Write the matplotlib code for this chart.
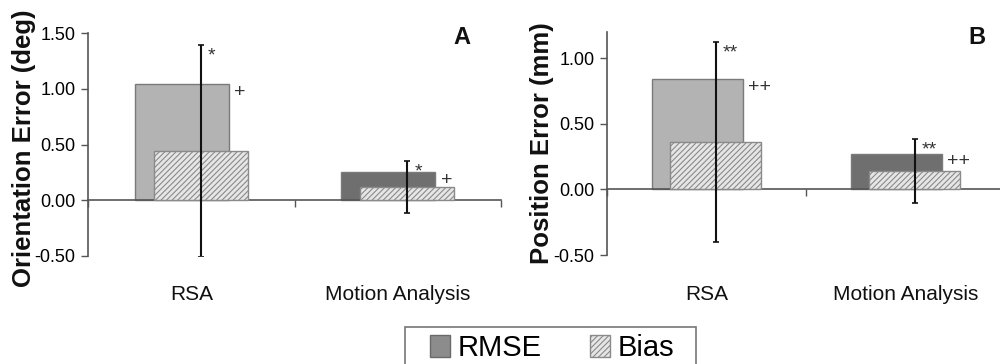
import matplotlib.pyplot as plt
import matplotlib.transforms as mtransforms
from matplotlib.patches import Patch, Rectangle
import numpy as np

plt.rcParams['font.family'] = ['Liberation Sans', 'DejaVu Sans']
plt.rcParams['hatch.linewidth'] = 0.8

# Data
categories = ['RSA', 'Motion Analysis']
rmse_orient = [1.04, 0.25]
bias_orient = [0.44, 0.12]
sd_orient = [0.95, 0.23]
rmse_pos = [0.84, 0.27]
bias_pos = [0.36, 0.14]
sd_pos = [0.76, 0.245]
marks_err_a = ['*', '*']
marks_rmse_a = ['+', '+']
marks_err_b = ['**', '**']
marks_rmse_b = ['++', '++']

rmse_colors = ['#b3b3b3', '#6f6f6f']
edge = '#7a7a7a'

fig = plt.figure(figsize=(10, 3.64), dpi=100)


def panel(rect, rmse, bias, sd, ylim, yticks, ylabel, m_err, m_rmse, letter, lx, label_x, label_y):
    ax = fig.add_axes(rect)
    x = np.arange(len(categories))
    w = 0.455
    off = 0.046
    ax.bar(x - off, rmse, w, color=rmse_colors, edgecolor=edge, linewidth=1, zorder=2)
    ax.bar(x + off, bias, w, color='#e6e6e6', edgecolor='#8a8a8a', hatch='//////',
           linewidth=1, zorder=3)
    ax.errorbar(x + off, bias, yerr=sd, fmt='none', ecolor='#111111', elinewidth=1.5,
                capsize=2, capthick=1.2, zorder=4)
    for i in range(len(categories)):
        ax.annotate(m_err[i], (x[i] + off, bias[i] + sd[i]), xytext=(5, -11),
                    textcoords='offset points', fontsize=14, color='#333333', zorder=5)
        ax.annotate(m_rmse[i], (x[i] - off + w / 2, rmse[i]), xytext=(4, -9),
                    textcoords='offset points', fontsize=14, color='#333333', zorder=5)

    ax.set_xlim(-0.5, 1.5)
    ax.set_ylim(*ylim)
    ax.set_yticks(yticks)
    ax.set_yticklabels([f'{v:.2f}' for v in yticks], fontsize=13)
    ax.set_xticks([-0.5, 0.5, 1.5])
    ax.set_xticklabels([])
    ax.tick_params(axis='both', direction='out', length=5, width=1, color='#555555')
    ax.tick_params(axis='y', pad=4)
    for s in ['top', 'right']:
        ax.spines[s].set_visible(False)
    ax.spines['bottom'].set_position(('data', 0))
    for s in ['left', 'bottom']:
        ax.spines[s].set_color('#555555')
        ax.spines[s].set_linewidth(1.2)

    trans = mtransforms.blended_transform_factory(ax.transData, fig.transFigure)
    for i, c in enumerate(categories):
        ax.text(x[i], 1 - 294 / 364, c, transform=trans, ha='center', va='center',
                fontsize=15, color='#111111')

    fig.text(label_x, label_y, ylabel, rotation=90, ha='center', va='center',
             fontsize=18.5, fontweight='bold', color='#111111')
    fig.text(lx, 1 - 37 / 364, letter, ha='center', va='center', fontsize=17,
             fontweight='bold', color='#111111')
    return ax


panel([0.088, 1 - 256 / 364, 0.413, 223 / 364], rmse_orient, bias_orient, sd_orient,
      (-0.5, 1.5), [-0.5, 0.0, 0.5, 1.0, 1.5], 'Orientation Error (deg)',
      marks_err_a, marks_rmse_a, 'A', 0.462, 0.024, 1 - 148 / 364)
panel([0.607, 1 - 255 / 364, 0.398, 223 / 364], rmse_pos, bias_pos, sd_pos,
      (-0.5, 1.2), [-0.5, 0.0, 0.5, 1.0], 'Position Error (mm)',
      marks_err_b, marks_rmse_b, 'B', 0.977, 0.542, 1 - 143 / 364)

# legend box (runs off the bottom edge like the original)
fig.patches.append(Rectangle((0.405, -0.05), 0.291, 0.05 + (364 - 327) / 364,
                             transform=fig.transFigure, facecolor='white',
                             edgecolor='#777777', linewidth=1.2))
handles = [Patch(facecolor='#8c8c8c', edgecolor='#6a6a6a'),
           Patch(facecolor='#e6e6e6', edgecolor='#8a8a8a', hatch='//////')]
fig.legend(handles, ['RMSE', 'Bias'], ncol=2, loc='upper left',
           bbox_to_anchor=(0.43, 1 - 334 / 364), fontsize=21, frameon=False,
           handlelength=0.68, handleheight=0.75, handletextpad=0.27,
           columnspacing=1.64, borderaxespad=0, borderpad=0)

fig.savefig('out.png', dpi=100)
